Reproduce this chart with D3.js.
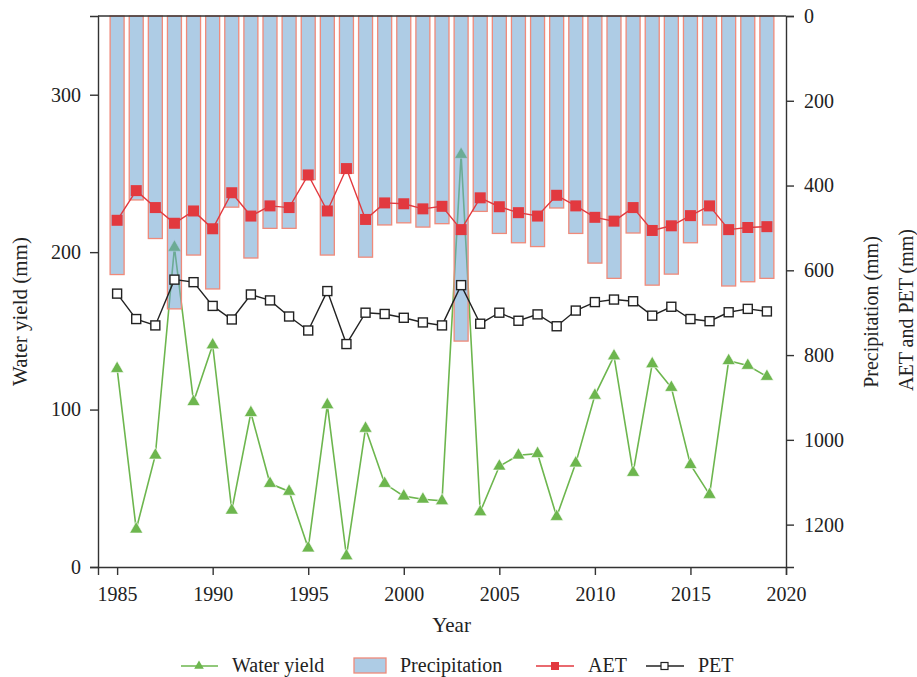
<!DOCTYPE html>
<html>
<head>
<meta charset="utf-8">
<script src="https://cdn.jsdelivr.net/npm/d3@7"></script>
<style>
  body { margin: 0; background: #fff; }
  text { font-family: "Liberation Serif", "Times New Roman", serif; fill: #222; }
</style>
</head>
<body>
<div id="container"></div>
<script>
/**
 * CONSTANTS AND GLOBALS
 * */
const width = 917,
  height = 677,
  margin = { top: 16, bottom: 110, left: 98, right: 131 };

// data
const years = d3.range(1985, 2020);
const waterYield = [126, 24, 71, 203, 105, 141, 36, 98, 53, 48, 12, 103, 7, 88, 53, 45, 43, 42, 262,
  35, 64, 71, 72, 32, 66, 109, 134, 60, 129, 114, 65, 46, 131, 128, 121];
const precipitation = [610, 434, 525, 691, 564, 644, 451, 571, 501, 501, 386, 564, 371, 569, 493, 488, 498, 490, 767,
  461, 513, 535, 544, 453, 513, 583, 619, 512, 635, 609, 535, 493, 637, 627, 619];
const aet = [482, 412, 452, 489, 460, 502, 417, 472, 448, 452, 375, 460, 360, 480, 441, 443, 455, 449, 504,
  429, 450, 464, 472, 423, 448, 475, 484, 452, 506, 495, 471, 448, 504, 499, 497];
const pet = [655, 715, 730, 622, 628, 684, 716, 657, 671, 709, 742, 649, 774, 700, 703, 712, 723, 730, 635,
  726, 700, 719, 704, 732, 695, 675, 669, 673, 707, 686, 715, 720, 699, 691, 697];

const xTicks = [1985, 1990, 1995, 2000, 2005, 2010, 2015, 2020];
const leftTicks = [0, 100, 200, 300];
const rightTicks = [0, 200, 400, 600, 800, 1000, 1200];

const svg = d3.select("#container")
  .append("svg")
  .attr("width", width)
  .attr("height", height)
  .style("background-color", "#fff");

const innerW = width - margin.left - margin.right,
  innerH = height - margin.top - margin.bottom;

const x = d3.scaleLinear().domain([1984, 2020]).range([margin.left, margin.left + innerW]);
const yLeft = d3.scaleLinear().domain([0, 350]).range([margin.top + innerH, margin.top]);
const yRight = d3.scaleLinear().domain([0, 1300]).range([margin.top, margin.top + innerH]);

const green = "#6db64e", red = "#e2393f", black = "#222";

// water yield goes underneath the (semi-transparent) bars
const wyLine = d3.line().x((d, i) => x(years[i])).y(d => yLeft(d));
svg.append("path")
  .attr("d", wyLine(waterYield))
  .attr("fill", "none")
  .attr("stroke", green)
  .attr("stroke-width", 1.6);

const tri = d3.symbol().type(d3.symbolTriangle).size(75);
svg.append("g")
  .selectAll("path")
  .data(waterYield)
  .join("path")
  .attr("d", tri)
  .attr("transform", (d, i) => `translate(${x(years[i])},${yLeft(d)})`)
  .attr("fill", green)
  .attr("stroke", "#fff")
  .attr("stroke-width", 0.6);

// precipitation bars hanging from the top
const barW = 14;
svg.append("g")
  .selectAll("rect")
  .data(precipitation)
  .join("rect")
  .attr("x", (d, i) => x(years[i]) - barW / 2)
  .attr("y", yRight(0))
  .attr("width", barW)
  .attr("height", d => yRight(d) - yRight(0))
  .attr("fill", "rgb(108,162,208)")
  .attr("fill-opacity", 0.55)
  .attr("stroke", "#f08a7a")
  .attr("stroke-width", 1.3);

// AET
const rLine = d3.line().x((d, i) => x(years[i])).y(d => yRight(d));
svg.append("path")
  .attr("d", rLine(aet))
  .attr("fill", "none")
  .attr("stroke", red)
  .attr("stroke-width", 1.4);
svg.append("g")
  .selectAll("rect")
  .data(aet)
  .join("rect")
  .attr("x", (d, i) => x(years[i]) - 5.5)
  .attr("y", d => yRight(d) - 5.5)
  .attr("width", 11)
  .attr("height", 11)
  .attr("fill", red);

// PET
svg.append("path")
  .attr("d", rLine(pet))
  .attr("fill", "none")
  .attr("stroke", black)
  .attr("stroke-width", 1.4);
svg.append("g")
  .selectAll("rect")
  .data(pet)
  .join("rect")
  .attr("x", (d, i) => x(years[i]) - 4.5)
  .attr("y", d => yRight(d) - 4.5)
  .attr("width", 9)
  .attr("height", 9)
  .attr("fill", "#fff")
  .attr("stroke", black)
  .attr("stroke-width", 1.4);

// axes
const styleAxis = g => {
  g.selectAll(".domain").attr("stroke", "#333").attr("stroke-width", 1.4);
  g.selectAll(".tick line").attr("stroke", "#333").attr("stroke-width", 1.4);
  g.selectAll(".tick text").style("font-size", "20px").attr("fill", "#222");
};

svg.append("g")
  .attr("transform", `translate(0,${margin.top + innerH})`)
  .call(d3.axisBottom(x).tickValues(xTicks).tickFormat(d3.format("d")).tickSizeOuter(0).tickSize(8).tickPadding(12))
  .call(styleAxis);

svg.append("g")
  .attr("transform", `translate(${margin.left},0)`)
  .call(d3.axisLeft(yLeft).tickValues(leftTicks).tickFormat(d3.format("d")).tickSizeOuter(0).tickSize(8).tickPadding(9))
  .call(styleAxis);

svg.append("g")
  .attr("transform", `translate(${margin.left + innerW},0)`)
  .call(d3.axisRight(yRight).tickValues(rightTicks).tickFormat(d3.format("d")).tickSizeOuter(0).tickSize(8).tickPadding(10))
  .call(styleAxis);

// top border
svg.append("line")
  .attr("x1", margin.left).attr("x2", margin.left + innerW)
  .attr("y1", margin.top).attr("y2", margin.top)
  .attr("stroke", "#333").attr("stroke-width", 1.4);

// axis titles
svg.append("text")
  .attr("transform", `translate(27,${margin.top + innerH / 2 + 20}) rotate(-90)`)
  .attr("text-anchor", "middle")
  .style("font-size", "21px")
  .text("Water yield (mm)");

svg.append("text")
  .attr("x", x(2002.5)).attr("y", 632)
  .attr("text-anchor", "middle")
  .style("font-size", "21px")
  .text("Year");

svg.append("text")
  .attr("transform", `translate(878,312) rotate(-90)`)
  .attr("text-anchor", "middle")
  .style("font-size", "20px")
  .text("Precipitation (mm)");

svg.append("text")
  .attr("transform", `translate(913,310) rotate(-90)`)
  .attr("text-anchor", "middle")
  .style("font-size", "20px")
  .text("AET and PET (mm)");

// legend
const ly = 666;
const ty = 672;
const legend = svg.append("g").style("font-size", "20px");

legend.append("line").attr("x1", 181).attr("x2", 218).attr("y1", ly).attr("y2", ly)
  .attr("stroke", green).attr("stroke-width", 1.4);
legend.append("path").attr("d", d3.symbol().type(d3.symbolTriangle).size(40))
  .attr("transform", `translate(199,${ly})`).attr("fill", green);
legend.append("text").attr("x", 232).attr("y", ty).text("Water yield");

legend.append("rect").attr("x", 354).attr("y", 658).attr("width", 32).attr("height", 15)
  .attr("fill", "rgb(108,162,208)").attr("fill-opacity", 0.55)
  .attr("stroke", "#f08a7a").attr("stroke-width", 1.3);
legend.append("text").attr("x", 400).attr("y", ty).text("Precipitation");

legend.append("line").attr("x1", 536).attr("x2", 574).attr("y1", ly).attr("y2", ly)
  .attr("stroke", red).attr("stroke-width", 1.4);
legend.append("rect").attr("x", 551).attr("y", ly - 4).attr("width", 8).attr("height", 8).attr("fill", red);
legend.append("text").attr("x", 588).attr("y", ty).text("AET");

legend.append("line").attr("x1", 646).attr("x2", 684).attr("y1", ly).attr("y2", ly)
  .attr("stroke", black).attr("stroke-width", 1.4);
legend.append("rect").attr("x", 661).attr("y", ly - 3.5).attr("width", 7).attr("height", 7)
  .attr("fill", "#fff").attr("stroke", black).attr("stroke-width", 1.2);
legend.append("text").attr("x", 698).attr("y", ty).text("PET");
</script>
</body>
</html>
